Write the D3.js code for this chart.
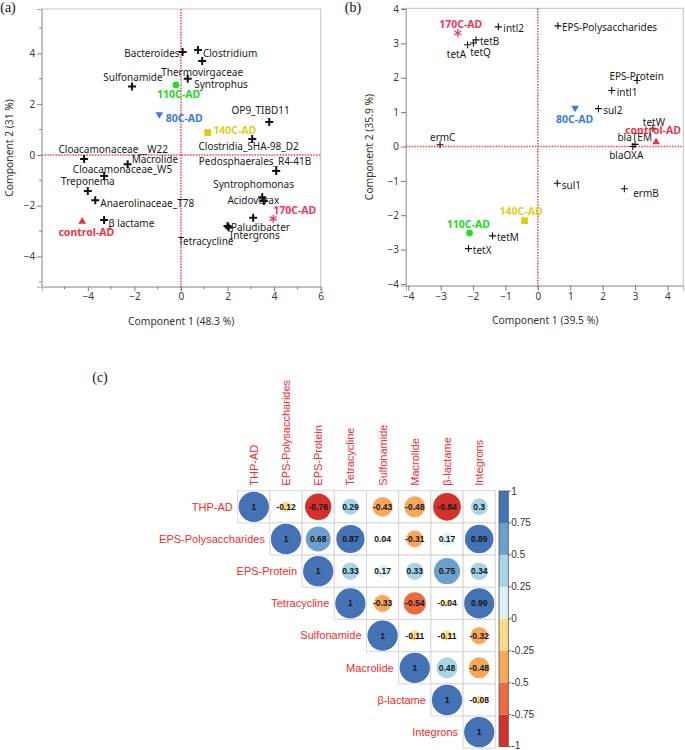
<!DOCTYPE html>
<html><head><meta charset="utf-8">
<script src="https://cdn.jsdelivr.net/npm/d3@7"></script>
<style>body{margin:0;background:#fff}svg{display:block}</style>
</head><body>
<svg id="chart" width="685" height="750"></svg>
<script>
// ---------------- DATA ----------------
// Panel (a) PCA: variables (loadings) and groups
const aVarNames = ["Bacteroides","Clostridium","Thermovirgaceae","Syntrophus","Sulfonamide","OP9_TIBD11",
  "Clostridia_SHA-98_D2","Cloacamonaceae__W22","Macrolide","Cloacamonaceae_W5","Pedosphaerales_R4-41B",
  "Treponema","Anaerolinaceae_T78","Syntrophomonas","Acidovorax","Intergrons","Paludibacter","Tetracycline","β lactame"];
const aVarX = [0.07,0.73,0.91,0.29,-2.1,3.79,3.06,-4.16,-2.29,-3.3,4.09,-4.0,-3.68,3.49,3.56,3.1,2.05,2.0,-3.3];
const aVarY = [4.06,4.13,3.7,3.0,2.7,1.3,0.63,-0.16,-0.37,-0.83,-0.63,-1.42,-1.78,-1.67,-1.81,-2.47,-2.86,-2.8,-2.56];
const groupNames = ["control-AD","80C-AD","110C-AD","140C-AD","170C-AD"];
const aGroupX = [-4.24,-0.93,-0.21,1.15,3.96];
const aGroupY = [-2.59,1.57,2.76,0.88,-2.51];
const aXTicks = [-4,-2,0,2,4,6];
const aXMinor = [-5,-3,-1,1,3,5];
const aYTicks = [4,2,0,-2,-4];
const aYMinor = [5,3,1,-1,-3,-5];

// Panel (b) PCA
const bVarNames = ["intl2","tetB","tetQ","tetA","EPS-Polysaccharides","EPS-Protein","intl1","sul2","tetW",
  "blaTEM","blaOXA","ermC","sul1","ermB","tetM","tetX"];
const bVarX = [-1.22,-1.91,-1.99,-2.17,0.62,3.06,2.28,1.87,3.55,3.0,2.93,-3.02,0.6,2.67,-1.4,-2.14];
const bVarY = [3.48,3.1,3.01,2.96,3.51,1.92,1.63,1.1,0.53,0.06,0.0,0.05,-1.07,-1.23,-2.6,-2.97];
const bGroupX = [3.65,1.15,-2.11,-0.41,-2.47];
const bGroupY = [0.15,1.1,-2.52,-2.16,3.3];
const bXTicks = [-4,-3,-2,-1,0,1,2,3,4];
const bYTicks = [4,3,2,1,0,-1,-2,-3,-4];

// Panel (c) correlation matrix (upper triangle, row-wise starting at the diagonal)
const corrVars = ["THP-AD","EPS-Polysaccharides","EPS-Protein","Tetracycline","Sulfonamide","Macrolide","β-lactame","Integrons"];
const corrRows = [
  [1,-0.12,-0.76,0.29,-0.43,-0.48,-0.84,0.3],
  [1,0.68,0.87,0.04,-0.31,0.17,0.89],
  [1,0.33,0.17,0.33,0.75,0.34],
  [1,-0.33,-0.54,-0.04,0.99],
  [1,-0.11,-0.11,-0.32],
  [1,0.48,-0.48],
  [1,-0.08],
  [1]
];
const colorbarTicks = [1,0.75,0.5,0.25,0,-0.25,-0.5,-0.75,-1];
const binColors = ["#D3312B","#EE6A40","#F8A858","#FCDB86","#DDF0F7","#A6D5E7","#6D9FCC","#4572B4"]; // -1..1

// ---------------- STYLE / LAYOUT ----------------
const svg = d3.select("#chart");
const UI = "'Segoe UI','Noto Sans','Open Sans',sans-serif";
const groupStyle = {
  "control-AD": {shape:"triUp", color:"#EC3646", text:"#EC3646"},
  "80C-AD": {shape:"triDown", color:"#3B7BE6", text:"#3B7BE6"},
  "110C-AD": {shape:"circle", color:"#22DD22", text:"#22D822"},
  "140C-AD": {shape:"square", color:"#D8CC18", text:"#DCCF1E"},
  "170C-AD": {shape:"star", color:"#F0365A", text:"#F0365A"}
};
// label offsets (px) relative to each point: [dx, dy(center), anchor]
const aVarLab = [[-3,1.5,"end"],[5,3,"start"],[0,11,"middle"],[6.5,6,"start"],[-28.7,-8.7,"start"],[-8.6,-11,"middle"],
  [-3.6,8,"middle"],[-25.6,-9.8,"start"],[4,-4.4,"start"],[-31.3,-6.8,"start"],[-77.4,-9,"start"],
  [-26.7,-9.4,"start"],[5,3,"start"],[-49,-12.4,"start"],[-36.4,0,"start"],[-23.3,18,"start"],[2.2,0,"start"],[-49.4,15.6,"start"],[4.3,3.3,"start"]];
const aGroupLab = [[-23.8,11.5],[6.4,3],[-19,9],[5.5,-2],[0,-8]];
const bVarLab = [[5,2],[4,1.6],[-3.2,9.8],[-20.7,9.8],[4,2],[-27.5,-4.3],[5,1.8],[4.7,1.8],[-10,-6],[-17.6,-7.2],[-23.6,9],[-10,-7.6],[4.5,2.2],[8.8,5],[4.4,2],[4.3,1.8]];
const bGroupLab = [[-31,-10.8],[-19,11],[-22.7,-8.7],[-25,-9.3],[-18.7,-8.5]];

function drawMarker(g, shape, color, x, y){
  const s = 3.7;
  if(shape==="triUp") g.append("path").attr("d",`M${x},${y-s}L${x+s*1.05},${y+s*0.8}L${x-s*1.05},${y+s*0.8}Z`).attr("fill",color);
  else if(shape==="triDown") g.append("path").attr("d",`M${x},${y+s}L${x+s*1.05},${y-s*0.8}L${x-s*1.05},${y-s*0.8}Z`).attr("fill",color);
  else if(shape==="circle") g.append("circle").attr("cx",x).attr("cy",y).attr("r",3.4).attr("fill",color);
  else if(shape==="square") g.append("rect").attr("x",x-3.4).attr("y",y-3.4).attr("width",6.8).attr("height",6.8).attr("fill",color);
  else if(shape==="star"){
    const r=4;
    [90,30,-30].forEach(a=>{const t=a*Math.PI/180;
      g.append("line").attr("x1",x-r*Math.cos(t)).attr("y1",y-r*Math.sin(t)).attr("x2",x+r*Math.cos(t)).attr("y2",y+r*Math.sin(t))
       .attr("stroke",color).attr("stroke-width",1.3);});
  }
}
function drawPlus(g,x,y,r,w){
  g.append("path").attr("d",`M${x-r},${y}H${x+r}M${x},${y-r}V${y+r}`).attr("stroke","#111").attr("stroke-width",w).attr("fill","none");
}

function pcaPanel(opt){
  const g = svg.append("g");
  const x = d3.scaleLinear().domain(opt.xDom).range([opt.left,opt.right]);
  const y = d3.scaleLinear().domain(opt.yDom).range([opt.bottom,opt.top]);
  g.append("rect").attr("x",opt.left).attr("y",opt.top).attr("width",opt.right-opt.left).attr("height",opt.bottom-opt.top)
    .attr("fill","none").attr("stroke","#C4C4C4").attr("stroke-width",1);
  const ax = g.append("g").attr("transform",`translate(0,${opt.bottom})`)
    .call(d3.axisBottom(x).tickValues(opt.xTicks).tickSize(opt.tick).tickPadding(2).tickFormat(d3.format("d")));
  const ay = g.append("g").attr("transform",`translate(${opt.left},0)`)
    .call(d3.axisLeft(y).tickValues(opt.yTicks).tickSize(opt.tick).tickPadding(2).tickFormat(d3.format("d")));
  [ax,ay].forEach(a=>{a.select(".domain").attr("stroke","#A8A8A8");
    a.selectAll(".tick line").attr("stroke","#7a7a7a");
    a.selectAll(".tick text").attr("fill","#3a3a3a").style("font-family",UI).style("font-size","10px");});
  if(opt.xMinor){
    g.selectAll(null).data(opt.xMinor).join("line").attr("x1",d=>x(d)).attr("x2",d=>x(d)).attr("y1",opt.bottom).attr("y2",opt.bottom+2.5).attr("stroke","#7a7a7a");
    g.selectAll(null).data(opt.yMinor).join("line").attr("y1",d=>y(d)).attr("y2",d=>y(d)).attr("x1",opt.left).attr("x2",opt.left-2.5).attr("stroke","#7a7a7a");
  }
  g.append("line").attr("x1",x(0)).attr("x2",x(0)).attr("y1",opt.top).attr("y2",opt.bottom+3)
    .attr("stroke","#F2404E").attr("stroke-width",1.5).attr("stroke-dasharray","1.5,1.3");
  g.append("line").attr("x1",opt.left).attr("x2",opt.right).attr("y1",y(0)).attr("y2",y(0))
    .attr("stroke","#F2404E").attr("stroke-width",1.5).attr("stroke-dasharray","1.5,1.3");
  g.append("text").attr("x",(opt.left+opt.right)/2+opt.xtOff).attr("y",opt.bottom+38).attr("text-anchor","middle")
    .style("font-family",UI).style("font-size","10.3px").attr("fill","#333").text(opt.xTitle);
  g.append("text").attr("transform",`translate(${opt.ytX},${(opt.top+opt.bottom)/2}) rotate(-90)`).attr("text-anchor","middle")
    .attr("dy","0.35em").style("font-family",UI).style("font-size","10.3px").attr("fill","#333").text(opt.yTitle);
  opt.vNames.forEach((n,i)=>{
    const px=x(opt.vx[i]), py=y(opt.vy[i]);
    drawPlus(g,px,py,opt.plusR,opt.plusW);
    const L=opt.vLab[i];
    g.append("text").attr("x",px+L[0]).attr("y",py+L[1]).attr("dy","0.35em").attr("text-anchor",L[2]||"start")
      .style("font-family",UI).style("font-size",opt.fs+"px").attr("fill","#1a1a1a").text(n);
  });
  groupNames.forEach((n,i)=>{
    const px=x(opt.gx[i]), py=y(opt.gy[i]); const st=groupStyle[n];
    drawMarker(g,st.shape,st.color,px,py);
    const L=opt.gLab[i];
    g.append("text").attr("x",px+L[0]).attr("y",py+L[1]).attr("dy","0.35em")
      .style("font-family",UI).style("font-size","10.5px").style("font-weight","bold").attr("fill",st.text).text(n);
  });
}

pcaPanel({left:41.7,right:320.7,top:9,bottom:286.7,xDom:[-5.98,6],yDom:[-5.19,5.75],
  xTicks:aXTicks,yTicks:aYTicks,xMinor:aXMinor,yMinor:aYMinor,tick:4.5,
  xTitle:"Component 1 (48.3 %)",yTitle:"Component 2 (31 %)",xtOff:0,ytX:9,
  vNames:aVarNames,vx:aVarX,vy:aVarY,vLab:aVarLab,gx:aGroupX,gy:aGroupY,gLab:aGroupLab,plusR:4,plusW:2,fs:10});
pcaPanel({left:406,right:683.3,top:8.3,bottom:285.7,xDom:[-4.07,4.49],yDom:[-4.05,4.02],
  xTicks:bXTicks,yTicks:bYTicks,tick:5,
  xTitle:"Component 1 (39.5 %)",yTitle:"Component 2 (35.9 %)",xtOff:0.5,ytX:369,
  vNames:bVarNames,vx:bVarX,vy:bVarY,vLab:bVarLab,gx:bGroupX,gy:bGroupY,gLab:bGroupLab,plusR:3.5,plusW:1.1,fs:10});

[["(a)",8,12],["(b)",353,12],["(c)",100,382]].forEach(d=>{
  svg.append("text").attr("x",d[1]).attr("y",d[2]).attr("text-anchor","middle").style("font-family","'Liberation Serif','Times New Roman',serif")
    .style("font-size","14px").attr("fill","#111").text(d[0]);
});

// ---------------- Panel (c) ----------------
const cg = svg.append("g");
const cx0 = 237.7, cy0 = 490.7, cell = 32.2;
const band = d3.scaleBand().domain(corrVars).range([0, cell*corrVars.length]);
const R = cell*0.47;
const binOf = v => Math.max(0, Math.min(7, Math.ceil((v+1)/0.25 - 1e-9) - 1));
const rad = d3.scaleSqrt().domain([0,1]).range([0,R]);
const cells = [];
corrRows.forEach((row,i)=>row.forEach((v,k)=>cells.push({r:corrVars[i],c:corrVars[i+k],v})));
cg.selectAll("rect.cell").data(cells).join("rect").attr("class","cell")
  .attr("x",d=>cx0+band(d.c)).attr("y",d=>cy0+band(d.r)).attr("width",cell).attr("height",cell)
  .attr("fill","#fff").attr("stroke","#D6D6D6").attr("stroke-width",1);
cg.selectAll("circle").data(cells).join("circle")
  .attr("cx",d=>cx0+band(d.c)+cell/2).attr("cy",d=>cy0+band(d.r)+cell/2).attr("r",d=>rad(Math.abs(d.v)))
  .attr("fill",d=>binColors[binOf(d.v)]);
cg.selectAll("text.val").data(cells).join("text").attr("class","val")
  .attr("x",d=>cx0+band(d.c)+cell/2).attr("y",d=>cy0+band(d.r)+cell/2).attr("dy","0.35em").attr("text-anchor","middle")
  .style("font-family","'Liberation Sans',Arial,sans-serif").style("font-size","8.5px").style("font-weight","bold").attr("fill","#151515")
  .text(d=>String(d.v));
cg.selectAll("text.rl").data(corrVars).join("text").attr("class","rl")
  .attr("x",d=>cx0+band(d)-5).attr("y",d=>cy0+band(d)+cell/2).attr("dy","0.35em").attr("text-anchor","end")
  .style("font-family","'Liberation Sans',Arial,sans-serif").style("font-size","11px").attr("fill","#F52A2A").text(d=>d);
cg.selectAll("text.cl").data(corrVars).join("text").attr("class","cl")
  .attr("transform",d=>`translate(${cx0+band(d)+cell/2+4},${cy0-5}) rotate(-90)`)
  .style("font-family","'Liberation Sans',Arial,sans-serif").style("font-size","11px").attr("fill","#F52A2A").text(d=>d);
const cbx = 499, cbw = 9.3, cbTop = 491, cbBot = 746.7;
const cbScale = d3.scaleLinear().domain([-1,1]).range([cbBot,cbTop]);
const binEdges = d3.range(8).map(i=>-1+i*0.25);
cg.selectAll("rect.cb").data(binEdges).join("rect").attr("class","cb")
  .attr("x",cbx).attr("width",cbw).attr("y",d=>cbScale(d+0.25)).attr("height",d=>cbScale(d)-cbScale(d+0.25))
  .attr("fill",(d,i)=>binColors[i]);
cg.append("rect").attr("x",cbx).attr("y",cbTop).attr("width",cbw).attr("height",cbBot-cbTop).attr("fill","none").attr("stroke","#555").attr("stroke-width",0.8);
cg.selectAll("line.cbt").data(colorbarTicks).join("line").attr("class","cbt")
  .attr("x1",cbx+cbw).attr("x2",cbx+cbw+2.5).attr("y1",d=>cbScale(d)).attr("y2",d=>cbScale(d)).attr("stroke","#555");
cg.selectAll("text.cbl").data(colorbarTicks).join("text").attr("class","cbl")
  .attr("x",cbx+cbw+3).attr("y",d=>Math.min(cbScale(d),745)).attr("dy","0.35em")
  .style("font-family","'Liberation Sans',Arial,sans-serif").style("font-size","10px").attr("fill","#333").text(d=>String(d));
</script>
</body></html>
